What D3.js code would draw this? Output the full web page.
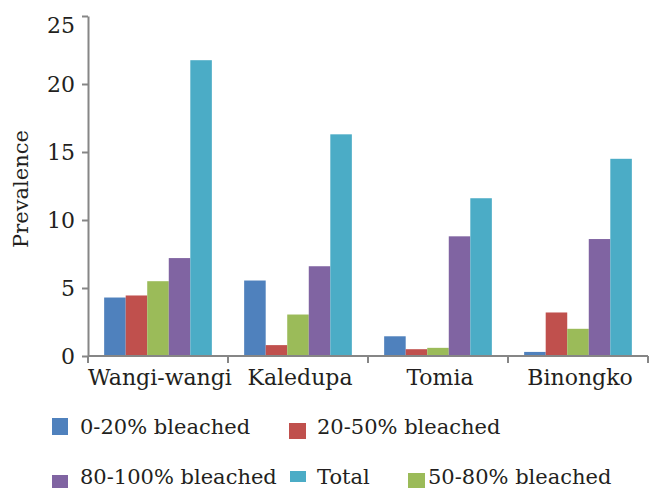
<!DOCTYPE html>
<html>
<head>
<meta charset="utf-8">
<script src="https://cdn.jsdelivr.net/npm/d3@7/dist/d3.min.js"></script>
<style>
  html, body { margin: 0; padding: 0; background: #fff; }
  svg { display: block; }
  text { font-family: "DejaVu Serif", serif; fill: #231f20; }
</style>
</head>
<body>
<svg id="chart" width="652" height="488"></svg>
<script>
// ---- data ----
const categories = ["Wangi-wangi", "Kaledupa", "Tomia", "Binongko"];
const seriesNames = ["0-20% bleached", "20-50% bleached", "50-80% bleached", "80-100% bleached", "Total"];
const bleached0_20   = [4.3, 5.55, 1.45, 0.3];
const bleached20_50  = [4.45, 0.8, 0.5, 3.2];
const bleached50_80  = [5.5, 3.05, 0.6, 2.0];
const bleached80_100 = [7.2, 6.6, 8.8, 8.6];
const totalValues    = [21.75, 16.3, 11.6, 14.5];
const yTicks = [0, 5, 10, 15, 20, 25];
const legendOrder = ["0-20% bleached", "20-50% bleached", "80-100% bleached", "Total", "50-80% bleached"];

// ---- styling / layout ----
const colors = {
  "0-20% bleached": "#4F81BD",
  "20-50% bleached": "#C0504D",
  "50-80% bleached": "#9BBB59",
  "80-100% bleached": "#8064A2",
  "Total": "#4BACC6"
};
const seriesValues = [bleached0_20, bleached20_50, bleached50_80, bleached80_100, totalValues];
const plotLeft = 88, plotRight = 648, plotTop = 16, plotBottom = 356;
const axisColor = "#868686";

const svg = d3.select("#chart");

const x0 = d3.scaleBand().domain(categories).range([plotLeft, plotRight]).paddingInner(0).paddingOuter(0);
const x1 = d3.scaleBand().domain(seriesNames).range([0, x0.bandwidth()]).paddingInner(0).paddingOuter(0.75);
const y = d3.scaleLinear().domain([0, 25]).range([plotBottom, plotTop]);

// bars
const g = svg.append("g");
categories.forEach((c, ci) => {
  seriesNames.forEach((s, si) => {
    const v = seriesValues[si][ci];
    g.append("rect")
      .attr("x", x0(c) + x1(s))
      .attr("y", y(v))
      .attr("width", x1.bandwidth())
      .attr("height", y(0) - y(v))
      .attr("fill", colors[s]);
  });
});

// y axis
const yAxis = svg.append("g")
  .attr("transform", `translate(${plotLeft},0)`)
  .call(d3.axisLeft(y).tickValues(yTicks).tickSize(6).tickPadding(7).tickSizeOuter(0));
yAxis.select(".domain").attr("stroke", axisColor).attr("stroke-width", 2);
yAxis.selectAll(".tick line").attr("stroke", axisColor).attr("stroke-width", 2);
yAxis.selectAll(".tick text").style("font-size", "22px").attr("fill", "#231f20")
  .style("font-family", "'DejaVu Serif', serif")
  .attr("dy", d => d === 25 ? "0.75em" : "0.32em");

// x axis: ticks at category boundaries
const xAxis = svg.append("g").attr("transform", `translate(0,${plotBottom})`);
xAxis.append("line").attr("x1", plotLeft).attr("x2", plotRight).attr("y1", 0).attr("y2", 0)
  .attr("stroke", axisColor).attr("stroke-width", 2);
const boundaries = categories.map(c => x0(c)).concat([x0(categories[categories.length - 1]) + x0.bandwidth()]);
xAxis.selectAll("line.b").data(boundaries).enter().append("line")
  .attr("class", "b")
  .attr("x1", d => d).attr("x2", d => d).attr("y1", 0).attr("y2", 7)
  .attr("stroke", axisColor).attr("stroke-width", 2);
xAxis.selectAll("text.cat").data(categories).enter().append("text")
  .attr("class", "cat")
  .attr("x", d => x0(d) + x0.bandwidth() / 2 + 2)
  .attr("y", 29)
  .attr("text-anchor", "middle")
  .style("font-size", "22px")
  .text(d => d);

// y label
svg.append("text")
  .attr("transform", `translate(28,189) rotate(-90)`)
  .attr("text-anchor", "middle")
  .style("font-size", "21px")
  .text("Prevalence");

// legend
const legendPos = [
  { sx: 52, sy: 418, sw: 16, sh: 17, tx: 80, ty: 434 },
  { sx: 289, sy: 423, sw: 17, sh: 16, tx: 317, ty: 434 },
  { sx: 52, sy: 475, sw: 16, sh: 15, tx: 80, ty: 484 },
  { sx: 290, sy: 471, sw: 16, sh: 11, tx: 317, ty: 484 },
  { sx: 408, sy: 473, sw: 17, sh: 16, tx: 428, ty: 484 }
];
legendOrder.forEach((name, i) => {
  const p = legendPos[i];
  svg.append("rect").attr("x", p.sx).attr("y", p.sy).attr("width", p.sw).attr("height", p.sh)
    .attr("fill", colors[name]);
  svg.append("text").attr("x", p.tx).attr("y", p.ty).style("font-size", "21px").text(name);
});
</script>
</body>
</html>
